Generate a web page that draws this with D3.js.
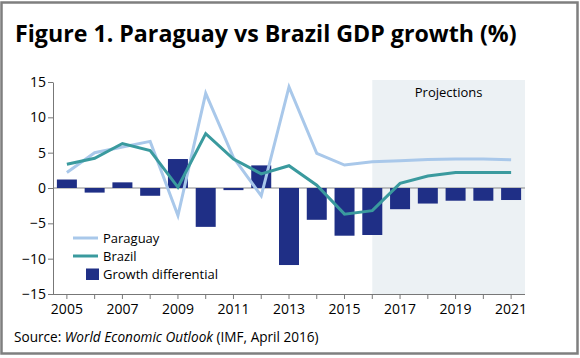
<!DOCTYPE html>
<html><head><meta charset="utf-8">
<script src="https://cdn.jsdelivr.net/npm/d3@7"></script>
<style>body{margin:0;background:#fff}svg{display:block;font-family:"Open Sans",sans-serif}</style>
</head><body><svg id="c" width="580" height="358"></svg>
<script>
const years = [2005,2006,2007,2008,2009,2010,2011,2012,2013,2014,2015,2016,2017,2018,2019,2020,2021];
const paraguay = [2.2,5.0,5.8,6.6,-3.9,13.4,4.3,-1.1,14.3,4.9,3.25,3.7,3.85,4.05,4.1,4.1,4.0];
const brazil = [3.35,4.2,6.3,5.3,0.1,7.7,4.1,2.0,3.15,0.4,-3.7,-3.2,0.65,1.7,2.2,2.2,2.2];
const differential = [1.2,-0.65,0.8,-1.1,4.1,-5.5,-0.3,3.2,-10.9,-4.5,-6.75,-6.65,-3.0,-2.2,-1.8,-1.8,-1.7];
const yTicks = [-15,-10,-5,0,5,10,15];
const xLabels = [2005,2007,2009,2011,2013,2015,2017,2019,2021];
const projectionStart = 2016;

const svg = d3.select("#c");
const L=53, R=525, T=82, B=294;
const x = d3.scaleBand().domain(years).range([L,R]).paddingInner(0.28).paddingOuter(0.14);
const xc = d => x(d)+x.bandwidth()/2;
const y = d3.scaleLinear().domain([-15,15]).range([B,T]);

svg.append("rect").attr("x",1.5).attr("y",2.5).attr("width",576).attr("height",351)
  .attr("fill","none").attr("stroke","#7f7f7f").attr("stroke-width",2.5);

svg.append("text").attr("x",15).attr("y",42).attr("font-size",23.2).attr("font-weight","bold")
  .attr("fill","#000").text("Figure 1. Paraguay vs Brazil GDP growth (%)");

// projection band
svg.append("rect").attr("x",xc(projectionStart)).attr("y",T-2).attr("width",R-xc(projectionStart)).attr("height",B-T+2)
  .attr("fill","#ecf1f4");
svg.append("text").attr("x",(xc(projectionStart)+R)/2).attr("y",97).attr("text-anchor","middle")
  .attr("font-size",13).attr("fill","#000").text("Projections");

// zero line
svg.append("line").attr("x1",L).attr("x2",R).attr("y1",y(0)).attr("y2",y(0)).attr("stroke","#888").attr("stroke-width",1);

// bars
svg.append("g").selectAll("rect").data(years).join("rect")
  .attr("x",d=>x(d)).attr("width",x.bandwidth())
  .attr("y",(d,i)=>y(Math.max(0,differential[i])))
  .attr("height",(d,i)=>Math.abs(y(differential[i])-y(0)))
  .attr("fill","#1f2f86");

const line = d3.line().x((d,i)=>xc(years[i])).y(d=>y(d));
svg.append("path").datum(paraguay).attr("d",line).attr("fill","none").attr("stroke","#a9c8ea").attr("stroke-width",3);
svg.append("path").datum(brazil).attr("d",line).attr("fill","none").attr("stroke","#3a9a9e").attr("stroke-width",3);

// axes
const ya = svg.append("g").attr("transform",`translate(${L},0)`)
  .call(d3.axisLeft(y).tickValues(yTicks).tickSize(5).tickSizeOuter(0).tickFormat(d3.format("d")));
ya.select(".domain").attr("stroke","#777");
ya.selectAll(".tick line").attr("stroke","#777");
ya.selectAll("text").attr("font-size",14).attr("fill","#000").attr("font-family","Open Sans").attr("x",-7);

const xa = svg.append("g").attr("transform",`translate(0,${B})`)
  .call(d3.axisBottom(x).tickSize(5).tickSizeOuter(0).tickFormat(d=>xLabels.includes(d)?d:""));
xa.select(".domain").attr("d",`M${L},0.5H${R}`).attr("stroke","#777");
xa.selectAll(".tick line").attr("stroke","#777");
xa.selectAll("text").attr("font-size",14).attr("fill","#000").attr("font-family","Open Sans").attr("y",10);

// legend
const lg = svg.append("g");
const items = [{t:"Paraguay",c:"#a9c8ea",k:"line",yy:238},{t:"Brazil",c:"#3a9a9e",k:"line",yy:256},{t:"Growth differential",c:"#1f2f86",k:"rect",yy:274}];
items.forEach(it=>{
  if(it.k==="line") lg.append("line").attr("x1",73).attr("x2",98).attr("y1",it.yy).attr("y2",it.yy).attr("stroke",it.c).attr("stroke-width",3);
  else lg.append("rect").attr("x",86).attr("y",it.yy-5.5).attr("width",13).attr("height",11.5).attr("fill",it.c);
  lg.append("text").attr("x",103).attr("y",it.yy+4.5).attr("font-size",13).attr("fill","#000").text(it.t);
});

// source
const s = svg.append("text").attr("x",14).attr("y",342).attr("font-size",13.6).attr("fill","#000");
s.append("tspan").text("Source: ");
s.append("tspan").attr("font-style","italic").text("World Economic Outlook");
s.append("tspan").text(" (IMF, April 2016)");
</script></body></html>
